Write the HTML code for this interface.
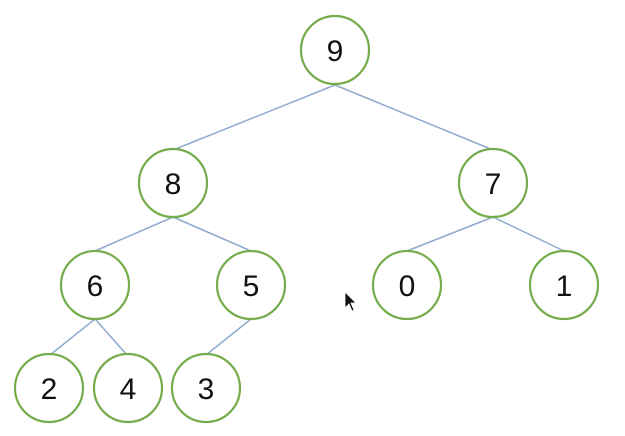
<!DOCTYPE html>
<html><head><style>html,body{margin:0;padding:0;background:#fff;width:625px;height:436px;overflow:hidden}</style></head>
<body>
<svg width="625" height="436" xmlns="http://www.w3.org/2000/svg">
<g stroke="#8eaacc" stroke-width="1.5">
<line x1="335" y1="85" x2="173" y2="150"/>
<line x1="335" y1="85" x2="493" y2="150"/>
<line x1="173" y1="217" x2="95" y2="251"/>
<line x1="173" y1="217" x2="251" y2="251"/>
<line x1="493" y1="217" x2="407" y2="251"/>
<line x1="493" y1="217" x2="564" y2="251"/>
<line x1="95" y1="319" x2="50" y2="355"/>
<line x1="95" y1="319" x2="127" y2="355"/>
<line x1="251" y1="319" x2="206" y2="355"/>
</g>
<g fill="#fff" stroke="#74ac4c" stroke-width="2.2">
<circle cx="335" cy="50" r="34"/>
<circle cx="173" cy="183" r="34"/>
<circle cx="493" cy="183" r="34"/>
<circle cx="95" cy="285" r="34"/>
<circle cx="251" cy="285" r="34"/>
<circle cx="407" cy="285" r="34"/>
<circle cx="564" cy="285" r="34"/>
<circle cx="49" cy="388" r="34"/>
<circle cx="128" cy="388" r="34"/>
<circle cx="206" cy="388" r="34"/>
</g>
<g font-family="Liberation Sans, sans-serif" font-size="30" text-anchor="middle" fill="#111">
<text x="335" y="61">9</text>
<text x="173" y="194">8</text>
<text x="493" y="194">7</text>
<text x="95" y="296">6</text>
<text x="251" y="296">5</text>
<text x="407" y="296">0</text>
<text x="564" y="296">1</text>
<text x="49" y="399">2</text>
<text x="128" y="399">4</text>
<text x="206" y="399">3</text>
</g>
<path d="M345 292 L345 308 L349 304 L352 311 L354 310 L351 303 L356 303 Z" fill="#111" stroke="#fff" stroke-width="0.8"/>
</svg>
</body></html>
